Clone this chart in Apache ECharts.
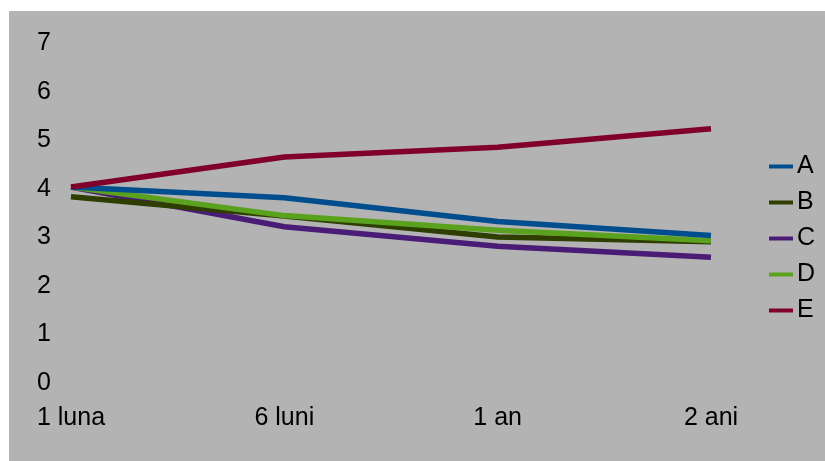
<!DOCTYPE html>
<html>
<head>
<meta charset="utf-8">
<script src="https://cdn.jsdelivr.net/npm/echarts@6/dist/echarts.min.js"></script>
<style>
  html, body { margin: 0; padding: 0; background: #ffffff; }
  #chart { width: 825px; height: 461px; }
</style>
</head>
<body>
<div id="chart"></div>
<script>
// Periods on the horizontal axis
const categories = ['1 luna', '6 luni', '1 an', '2 ani'];

// One series per group
const seriesNames = ['A', 'B', 'C', 'D', 'E'];
const valuesA = [4.0, 3.78, 3.29, 3.00];
const valuesB = [3.80, 3.40, 2.97, 2.87];
const valuesC = [4.0, 3.18, 2.78, 2.55];
const valuesD = [4.0, 3.41, 3.11, 2.89];
const valuesE = [4.0, 4.62, 4.82, 5.20];
const seriesValues = [valuesA, valuesB, valuesC, valuesD, valuesE];
const seriesColors = ['#004e8d', '#2e3d00', '#4b1c75', '#5aa11d', '#80002b'];

// Value axis ticks
const yTicks = [0, 1, 2, 3, 4, 5, 6, 7];

const FONT = '"Liberation Sans", Arial, sans-serif';

const chart = echarts.init(document.getElementById('chart'), null, { renderer: 'canvas' });

// Draw D above B and B above C so the stacking order of the lines reads clearly
const drawOrder = [2, 1, 3, 0, 4];

chart.setOption({
  backgroundColor: '#ffffff',
  animation: false,
  graphic: [{
    type: 'rect',
    z: -10,
    silent: true,
    shape: { x: 9, y: 11, width: 816, height: 450 },
    style: { fill: '#b3b3b3' }
  }],
  grid: { left: 71, right: 114, top: 41.5, bottom: 80, containLabel: false },
  legend: {
    orient: 'vertical',
    left: 764,
    top: 149,
    itemWidth: 24,
    itemHeight: 4,
    itemGap: 11,
    icon: 'rect',
    textStyle: { fontFamily: FONT, fontSize: 25, color: '#000', padding: [0, 0, 0, -1], lineHeight: 25 },
    data: seriesNames.map((n, i) => ({ name: n, itemStyle: { color: seriesColors[i] } }))
  },
  xAxis: {
    type: 'category',
    data: categories,
    boundaryGap: false,
    axisLine: { show: false },
    axisTick: { show: false },
    splitLine: { show: false },
    axisLabel: {
      fontFamily: FONT, fontSize: 25, color: '#000', margin: 25, lineHeight: 25,
      interval: 0
    }
  },
  yAxis: {
    type: 'value',
    min: yTicks[0],
    max: yTicks[yTicks.length - 1],
    interval: 1,
    axisLine: { show: false },
    axisTick: { show: false },
    splitLine: { show: false },
    axisLabel: {
      margin: 20,
      formatter: '{v|{value}}',
      rich: { v: { fontFamily: FONT, fontSize: 25, color: '#000', lineHeight: 25, padding: [4, 0, 0, 0] } }
    }
  },
  series: drawOrder.map((i, k) => ({
    name: seriesNames[i],
    type: 'line',
    data: seriesValues[i],
    z: 2 + k,
    showSymbol: false,
    symbol: 'none',
    smooth: false,
    lineStyle: { width: 5.5, color: seriesColors[i], cap: 'butt', join: 'round' },
    itemStyle: { color: seriesColors[i] }
  }))
});
</script>
</body>
</html>
